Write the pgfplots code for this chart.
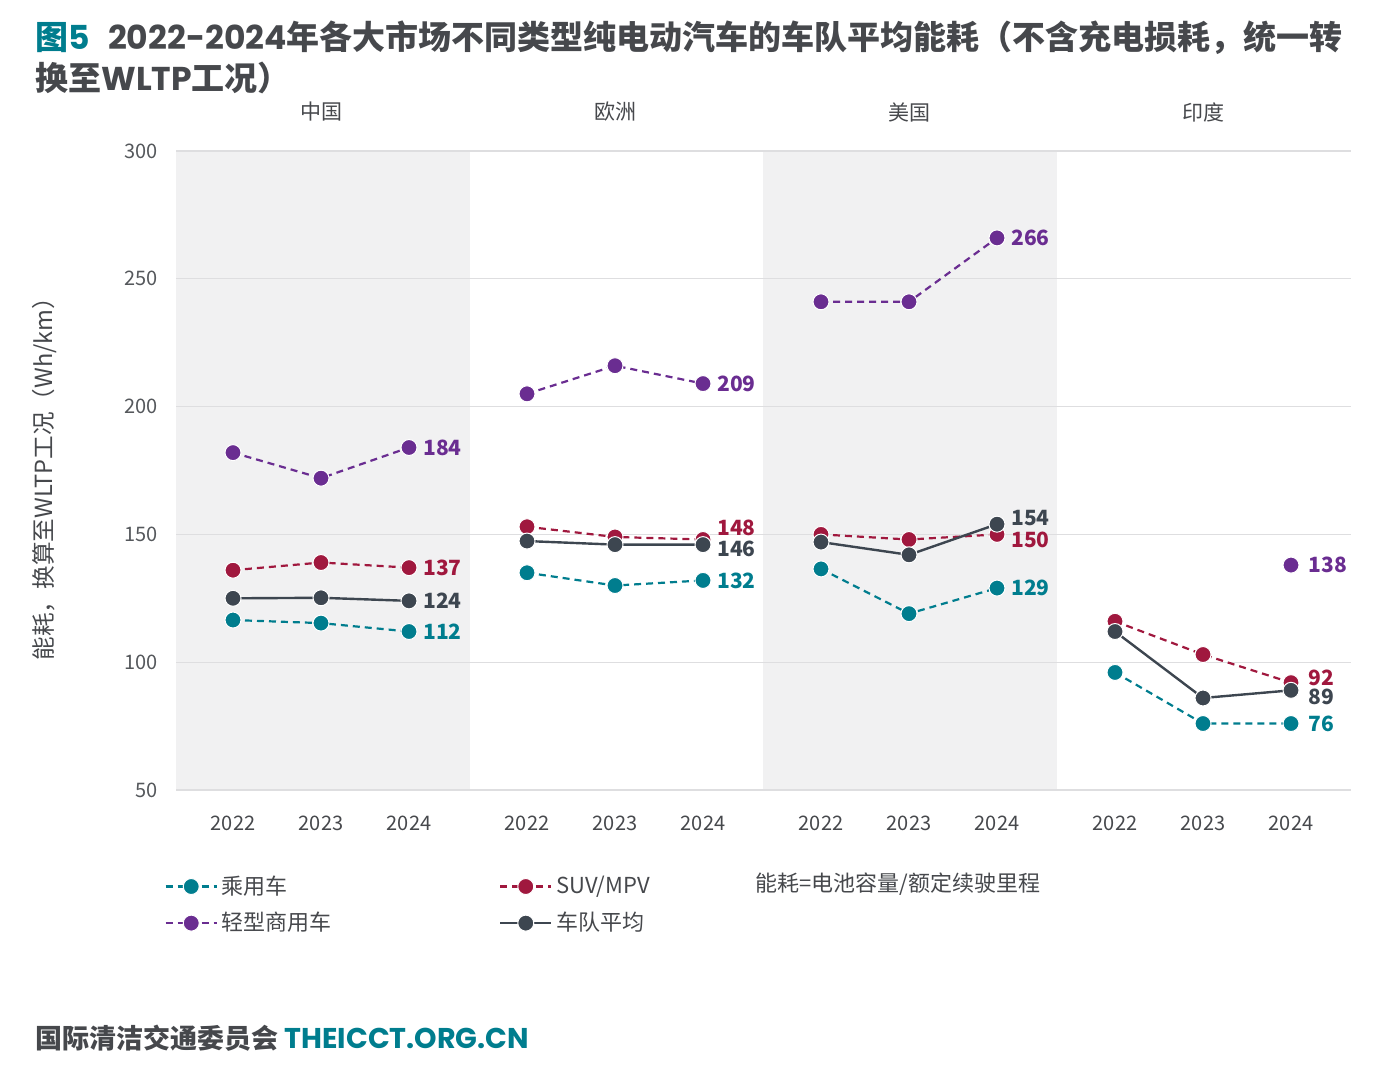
\documentclass[border=0pt]{standalone}
\usepackage{pgfplots}
\pgfplotsset{compat=1.18}
\usepackage{pgfplotstable}
\usepackage{fontspec}
\setmainfont{Noto Sans CJK SC}
\newfontfamily\pop{Poppins}
\definecolor{icteal}{RGB}{0,125,142}
\definecolor{icred}{RGB}{160,24,62}
\definecolor{icpurple}{RGB}{106,45,145}
\definecolor{icdark}{RGB}{61,70,80}
\definecolor{bgshade}{RGB}{241,241,242}
\definecolor{gridc}{RGB}{222,222,224}
\definecolor{txt}{RGB}{70,72,76}
\definecolor{ticktxt}{RGB}{85,88,92}
\pgfplotsset{
 tealstyle/.style={color=icteal, line width=1.1pt, dash pattern=on 3.5pt off 2.5pt, mark=*, mark size=4pt, mark options={solid, fill=icteal, draw=white, line width=0.5pt}},
 redstyle/.style={color=icred, line width=1.1pt, dash pattern=on 3.5pt off 2.5pt, mark=*, mark size=4pt, mark options={solid, fill=icred, draw=white, line width=0.5pt}},
 purplestyle/.style={color=icpurple, line width=1.1pt, dash pattern=on 3.5pt off 2.5pt, mark=*, mark size=4pt, mark options={solid, fill=icpurple, draw=white, line width=0.5pt}},
 darkstyle/.style={color=icdark, line width=1.2pt, solid, mark=*, mark size=4pt, mark options={solid, fill=icdark, draw=white, line width=0.5pt}},
}
\tikzset{vl/.style={anchor=west, inner sep=0pt, font=\bfseries\fontsize{10.5}{12}\selectfont}}
\pgfplotstableread{
x teal red purple dark
57 116.5 136 182 125
145 115.3 139 172 125.2
233 112 137 184 124
290 nan nan nan nan
351 135 153 205 147.4
439 130 149 216 146
527 132 148 209 146
590 nan nan nan nan
645 136.5 150 241 147
733 119 148 241 142
821 129 150 266 154
880 nan nan nan nan
939 96 116 nan 112
1027 76 103 nan 86
1115 76 92 138 89
}\datatab
\begin{document}
\begin{tikzpicture}
\path[use as bounding box] (0,0) rectangle (697.5pt,-540pt);
% title
\node[anchor=west, inner sep=0pt, text=txt, font=\bfseries\fontsize{16.5}{19}\selectfont] at (17.5pt,-19pt)
 {{\color{icteal}图{\pop 5}}\hspace{0.55em}{\pop 2022-2024}年各大市场不同类型纯电动汽车的车队平均能耗（不含充电损耗，统一转};
\node[anchor=west, inner sep=0pt, text=txt, font=\bfseries\fontsize{16.5}{19}\selectfont] at (17.5pt,-39pt)
 {换至{\pop WLTP}工况）};
% panel headers
\node[text=txt, font=\fontsize{10.5}{12}\selectfont] at (160.5pt,-56pt) {中国};
\node[text=txt, font=\fontsize{10.5}{12}\selectfont] at (307.5pt,-56pt) {欧洲};
\node[text=txt, font=\fontsize{10.5}{12}\selectfont] at (454.5pt,-56pt) {美国};
\node[text=txt, font=\fontsize{10.5}{12}\selectfont] at (601.5pt,-56pt) {印度};
% y label
\node[rotate=90, text=txt, font=\fontsize{11.8}{13}\selectfont] at (22.5pt,-236.5pt) {能耗，换算至WLTP工况（Wh/km）};
\begin{axis}[
 at={(88pt,-395pt)}, anchor=south west,
 width=587.5pt, height=319.5pt, scale only axis,
 xmin=0, xmax=1175, ymin=50, ymax=300,
 ytick={50,100,150,200,250,300},
 xtick={57,145,233,351,439,527,645,733,821,939,1027,1115},
 xticklabels={2022,2023,2024,2022,2023,2024,2022,2023,2024,2022,2023,2024},
 major tick length=0pt,
 axis line style={draw=none},
 /pgf/number format/assume math mode=true,
 yticklabel style={text=ticktxt, font=\fontsize{10}{12}\selectfont, anchor=east, xshift=-5.5pt},
 xticklabel style={text=txt, font=\fontsize{10}{12}\selectfont, anchor=center, yshift=-16.5pt},
 unbounded coords=jump,
 clip=false,
 legend columns=2,
 legend style={at={(-0.0152,-0.121)}, anchor=north west, draw=none, fill=none,
   font=\fontsize{11}{12}\selectfont, text=txt, row sep=3.5pt,
   /tikz/every even column/.append style={column sep=81.5pt}},
 legend cell align=left,
 legend image code/.code={\draw[mark repeat=2,mark phase=2,#1] plot coordinates {(0cm,0cm) (0.45cm,0cm) (0.9cm,0cm)};},
]
\fill[bgshade] (axis cs:0,50) rectangle (axis cs:293.5,300);
\fill[bgshade] (axis cs:587,50) rectangle (axis cs:880.5,300);
\foreach \gy in {50,100,150,200,250,300}{
 \edef\temp{\noexpand\draw[gridc, line width=0.6pt] (axis cs:0,\gy) -- (axis cs:1175,\gy);}
 \temp
}
\addlegendimage{tealstyle}
\addlegendimage{redstyle}
\addlegendimage{purplestyle}
\addlegendimage{darkstyle}
\addplot[tealstyle, forget plot] table[x=x,y=teal]{\datatab};
\addplot[redstyle, forget plot] table[x=x,y=red]{\datatab};
\addplot[purplestyle, forget plot] table[x=x,y=purple]{\datatab};
\addplot[darkstyle, forget plot] table[x=x,y=dark]{\datatab};
\legend{乘用车, SUV/MPV, 轻型商用车, 车队平均}
% value labels
\node[vl, text=icpurple] at (axis cs:247,184) {184};
\node[vl, text=icred] at (axis cs:247,137) {137};
\node[vl, text=icdark] at (axis cs:247,124) {124};
\node[vl, text=icteal] at (axis cs:247,112) {112};
\node[vl, text=icpurple] at (axis cs:541,209) {209};
\node[vl, text=icred] at (axis cs:541,152.5) {148};
\node[vl, text=icdark] at (axis cs:541,144.3) {146};
\node[vl, text=icteal] at (axis cs:541,132) {132};
\node[vl, text=icpurple] at (axis cs:835,266) {266};
\node[vl, text=icdark] at (axis cs:835,156.4) {154};
\node[vl, text=icred] at (axis cs:835,147.8) {150};
\node[vl, text=icteal] at (axis cs:835,129) {129};
\node[vl, text=icpurple] at (axis cs:1132,138) {138};
\node[vl, text=icred] at (axis cs:1132,93.8) {92};
\node[vl, text=icdark] at (axis cs:1132,86.4) {89};
\node[vl, text=icteal] at (axis cs:1132,76) {76};
\end{axis}
\node[anchor=west, inner sep=0pt, text=txt, font=\fontsize{11}{12}\selectfont] at (377.5pt,-442pt) {能耗=电池容量/额定续驶里程};
\node[anchor=west, inner sep=0pt, font=\bfseries\fontsize{13.5}{15}\selectfont] at (17.5pt,-519pt)
 {{\color{txt}国际清洁交通委员会} {\pop\fontsize{14.3}{15}\selectfont\color{icteal}THEICCT.ORG.CN}};
\end{tikzpicture}
\end{document}
